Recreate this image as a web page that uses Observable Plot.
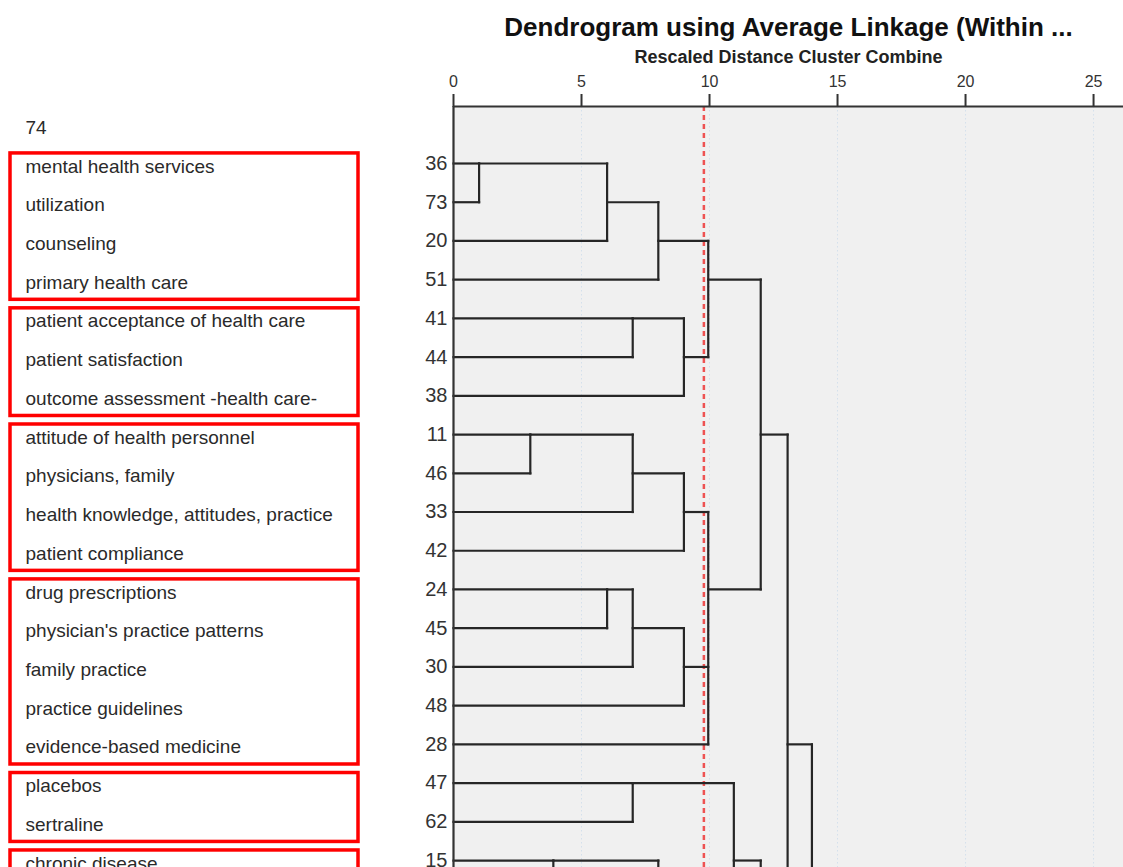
<!DOCTYPE html>
<html><head><meta charset="utf-8">
<script src="https://cdn.jsdelivr.net/npm/d3@7"></script>
<script src="https://cdn.jsdelivr.net/npm/@observablehq/plot@0.6"></script>
<style>
html,body{margin:0;padding:0;background:#fff;overflow:hidden;}
#chart{display:flex;width:1123px;height:867px;}
#chart svg{overflow:hidden;display:block;}
</style></head><body><div id="chart"></div>
<script>
// ---- data ----
const chartTitle = "Dendrogram using Average Linkage (Within ...";
const chartSubtitle = "Rescaled Distance Cluster Combine";
const axisTicks = [0, 5, 10, 15, 20, 25];
const cutDistance = 9.78;

// case numbers, top to bottom (row index = position)
const leafIds = ["36","73","20","51","41","44","38","11","46","33","42","24","45","30","48","28","47","62","15"];

// terms listed at the left (first entry sits one row above the first case)
const termLabels = ["74","mental health services","utilization","counseling","primary health care",
  "patient acceptance of health care","patient satisfaction","outcome assessment -health care-",
  "attitude of health personnel","physicians, family","health knowledge, attitudes, practice","patient compliance",
  "drug prescriptions","physician's practice patterns","family practice","practice guidelines","evidence-based medicine",
  "placebos","sertraline","chronic disease"];

// red boxes: first and last row of each group
const groupStart = [0, 4, 7, 11, 16, 18];
const groupEnd   = [3, 6, 10, 15, 17, 22];

// merges ("#n" = member in row n, beyond the cropped bottom edge)
const nodeIds       = ["A","B","C","D","E","F","G","H","I","J","K","L","M","N","R","U","T","Q","V","O","W"];
const nodeDistance  = [1.0, 6.0, 8.0, 7.0, 9.0, 9.95, 3.0, 7.0, 9.0, 6.0, 7.0, 9.0, 9.95, 12.0, 7.0, 3.9, 8.0, 10.95, 12.0, 13.05, 14.0];
const nodeChildren  = [["36","73"],["A","20"],["B","51"],["41","44"],["D","38"],["C","E"],
  ["11","46"],["G","33"],["H","42"],["24","45"],["J","30"],["K","48"],["I","L","28"],["F","M"],
  ["47","62"],["15","#19"],["U","#22"],["R","T"],["Q","#28"],["N","V"],["O","#34"]];
const nodeRow       = [0, 1, 2, 4, 5, 3, 7, 8, 9, 11, 12, 13, 11, 7, 16, 18, 20, 18, 23, 15, 25];

// ---- build ----
const pos = new Map();
leafIds.forEach((id, i) => pos.set(id, {row: i, d: 0}));
nodeIds.forEach((id, i) => pos.set(id, {row: nodeRow[i], d: nodeDistance[i]}));
const getPos = k => k.startsWith("#") ? {row: +k.slice(1), d: 0} : pos.get(k);

const segments = [];
nodeIds.forEach((id, i) => {
  const d = nodeDistance[i];
  const kids = nodeChildren[i].map(getPos);
  const rows = kids.map(k => k.row);
  segments.push({x1: d, x2: d, y1: Math.min(...rows), y2: Math.max(...rows)});
  kids.forEach(k => segments.push({x1: k.d, x2: d, y1: k.row, y2: k.row}));
});

const groups = groupStart.map((s, i) => ({start: s, end: groupEnd[i]}));

const yDomain = [-1.472, 18.18];
const font = "'Liberation Sans', Arial, sans-serif";

const left = Plot.plot({
  width: 400, height: 867,
  marginLeft: 10, marginRight: 42, marginTop: 106, marginBottom: 0,
  x: {domain: [0, 1], axis: null},
  y: {domain: yDomain, reverse: true, axis: null},
  style: {fontFamily: font, background: "transparent"},
  marks: [
    Plot.rect(groups, {x1: 0, x2: 1, y1: g => g.start - 0.26, y2: g => g.end + 0.52,
      fill: "none", stroke: "#ff0000", strokeWidth: 3.5}),
    Plot.text(termLabels, {x: 0, y: (d, i) => i - 1, text: d => d, textAnchor: "start",
      dx: 15, dy: 3, fontSize: 19, fill: "#2a2a2a"})
  ]
});

const right = Plot.plot({
  width: 723, height: 867,
  marginLeft: 53, marginRight: 0, marginTop: 106, marginBottom: 0,
  x: {domain: [0, 26.17]},
  y: {domain: yDomain, reverse: true},
  style: {fontFamily: font, background: "transparent", color: "#333"},
  marks: [
    Plot.frame({fill: "#f0f0f0", stroke: "none"}),
    Plot.ruleX(axisTicks, {stroke: "#d4e0ec", strokeDasharray: "1.5,2.5"}),
    Plot.ruleX([cutDistance], {stroke: "#ee5252", strokeWidth: 2.5, strokeDasharray: "5,4"}),
    Plot.link(segments, {x1: "x1", y1: "y1", x2: "x2", y2: "y2", stroke: "#262626",
      strokeWidth: 2.2, strokeLinecap: "square"}),
    Plot.ruleX([0], {stroke: "#333", strokeWidth: 2.2}),
    Plot.ruleY([yDomain[0]], {stroke: "#333", strokeWidth: 2.2}),
    Plot.axisX({anchor: "top", ticks: axisTicks, tickSize: 13, tickPadding: 7, fontSize: 16,
      strokeWidth: 2, label: null}),
    Plot.axisY({anchor: "left", ticks: leafIds.map((_, i) => i), tickFormat: i => leafIds[i],
      tickSize: 0, tickPadding: 6, fontSize: 20, label: null}),
    Plot.text([chartTitle], {frameAnchor: "top", lineAnchor: "middle", dy: -79, text: d => d, fontSize: 26,
      fontWeight: "bold", fill: "#111", letterSpacing: 1}),
    Plot.text([chartSubtitle], {frameAnchor: "top", lineAnchor: "middle", dy: -49, text: d => d, fontSize: 18,
      fontWeight: "bold", fill: "#222", letterSpacing: 1.1})
  ]
});

document.getElementById("chart").append(left, right);
</script></body></html>
